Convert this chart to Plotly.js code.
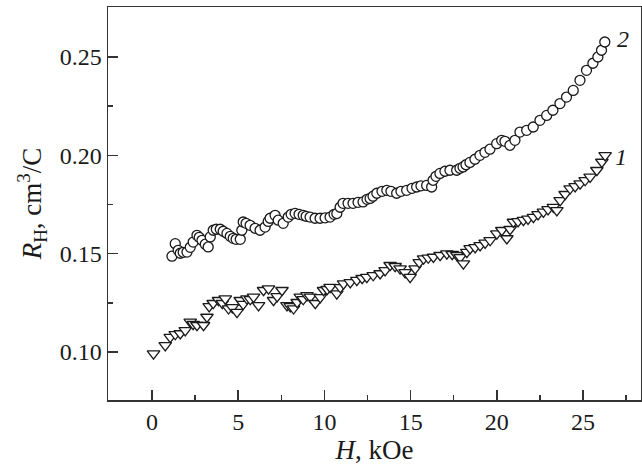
<!DOCTYPE html>
<html>
<head>
<meta charset="utf-8">
<script src="https://cdn.plot.ly/plotly-3.0.1.min.js"></script>
<style>html,body{margin:0;padding:0;background:#fff;}#chart{width:642px;height:471px;}</style>
</head>
<body>
<div id="chart"></div>
<script>
// Curve 1 (triangles down)
var h1 = [0.09,0.77,1.06,1.35,1.64,1.93,2.22,2.39,2.61,2.99,3.19,3.32,3.55,3.86,4.08,4.25,4.44,4.66,4.93,5.12,5.29,5.51,5.70,5.89,6.18,6.47,6.76,7.05,7.26,7.54,7.83,8.02,8.21,8.42,8.60,8.77,8.99,9.18,9.47,9.76,9.95,10.16,10.33,10.72,10.92,11.11,11.50,11.88,12.19,12.46,12.83,13.23,13.52,13.81,14.10,14.39,14.68,14.97,15.26,15.50,15.75,16.02,16.32,16.71,17.10,17.41,17.68,17.87,18.06,18.26,18.45,18.74,19.03,19.32,19.61,20.00,20.29,20.58,20.77,20.96,21.23,21.54,21.81,22.12,22.39,22.70,22.97,23.28,23.48,23.67,23.96,24.25,24.54,24.83,25.12,25.41,25.80,26.09,26.28];
var r1 = [0.0992,0.1034,0.1076,0.1090,0.1094,0.1110,0.1153,0.1141,0.1136,0.1136,0.1178,0.1232,0.1248,0.1263,0.1248,0.1271,0.1221,0.1227,0.1203,0.1263,0.1243,0.1271,0.1268,0.1280,0.1237,0.1314,0.1322,0.1263,0.1283,0.1314,0.1237,0.1232,0.1221,0.1253,0.1280,0.1268,0.1288,0.1280,0.1248,0.1278,0.1314,0.1319,0.1330,0.1297,0.1329,0.1348,0.1354,0.1365,0.1375,0.1381,0.1390,0.1399,0.1415,0.1441,0.1436,0.1424,0.1405,0.1381,0.1424,0.1456,0.1475,0.1479,0.1483,0.1492,0.1500,0.1497,0.1492,0.1481,0.1449,0.1508,0.1527,0.1532,0.1542,0.1555,0.1568,0.1602,0.1619,0.1577,0.1624,0.1661,0.1664,0.1670,0.1677,0.1686,0.1700,0.1712,0.1725,0.1737,0.1720,0.1771,0.1802,0.1831,0.1842,0.1856,0.1873,0.1890,0.1924,0.1966,0.2000];

// Curve 2 (circles)
var h2 = [1.16,1.35,1.52,1.64,1.81,2.03,2.22,2.39,2.61,2.74,2.90,3.09,3.26,3.38,3.55,3.73,3.96,4.13,4.35,4.54,4.71,4.88,5.12,5.21,5.29,5.46,5.69,5.98,6.27,6.56,6.74,6.85,7.14,7.32,7.61,7.90,8.07,8.30,8.53,8.77,8.94,9.17,9.46,9.75,10.04,10.33,10.56,10.72,10.91,11.08,11.37,11.66,11.95,12.24,12.47,12.65,12.82,13.04,13.34,13.62,13.86,14.19,14.44,14.77,15.08,15.35,15.60,15.93,16.22,16.30,16.47,16.70,16.99,17.28,17.67,17.86,18.04,18.21,18.44,18.73,19.02,19.31,19.60,19.99,20.28,20.47,20.76,21.05,21.34,21.73,22.11,22.50,22.89,23.25,23.66,24.04,24.43,24.82,25.20,25.57,25.86,26.07,26.26];
var r2 = [0.1487,0.1551,0.1517,0.1502,0.1507,0.1508,0.1532,0.1559,0.1593,0.1583,0.1568,0.1548,0.1534,0.1585,0.1619,0.1624,0.1624,0.1614,0.1603,0.1588,0.1578,0.1573,0.1573,0.1619,0.1661,0.1654,0.1644,0.1629,0.1619,0.1635,0.1664,0.1680,0.1695,0.1670,0.1654,0.1686,0.1700,0.1705,0.1700,0.1695,0.1690,0.1686,0.1680,0.1680,0.1682,0.1686,0.1700,0.1704,0.1736,0.1756,0.1756,0.1756,0.1761,0.1763,0.1776,0.1781,0.1792,0.1807,0.1817,0.1822,0.1817,0.1807,0.1817,0.1822,0.1832,0.1839,0.1845,0.1847,0.1839,0.1873,0.1893,0.1908,0.1919,0.1924,0.1924,0.1934,0.1941,0.1952,0.1964,0.1980,0.2000,0.2015,0.2031,0.2059,0.2076,0.2071,0.2051,0.2076,0.2118,0.2127,0.2144,0.2178,0.2203,0.2229,0.2263,0.2296,0.2330,0.2381,0.2432,0.2468,0.2500,0.2534,0.2576];

var curveLabels = ['1', '2'];
var xTickVals = [0, 5, 10, 15, 20, 25];
var yTickVals = [0.10, 0.15, 0.20, 0.25];
var yTickText = ['0.10', '0.15', '0.20', '0.25'];

var font = 'Liberation Serif, Times New Roman, serif';
var ink = '#1a1a1a';

var traces = [
  {x: h1, y: r1, mode: 'markers', type: 'scatter',
   marker: {symbol: 'triangle-down', size: 11, color: '#ffffff', line: {color: ink, width: 1.3}}},
  {x: h2, y: r2, mode: 'markers', type: 'scatter',
   marker: {symbol: 'circle', size: 10, color: '#ffffff', line: {color: ink, width: 1.3}}}
];

var layout = {
  width: 642, height: 471,
  margin: {l: 108, r: 1, t: 7, b: 71},
  paper_bgcolor: '#ffffff', plot_bgcolor: '#ffffff',
  showlegend: false,
  font: {family: font, size: 24, color: ink},
  xaxis: {
    range: [-2.55, 28.36], tickmode: 'array', tickvals: xTickVals,
    ticks: 'inside', ticklen: 10, tickwidth: 1.5, tickcolor: '#333',
    minor: {ticks: 'inside', ticklen: 5, tickwidth: 1.5, tickcolor: '#333', dtick: 2.5, tick0: 0},
    showline: true, linecolor: '#333', linewidth: 1.5, mirror: true,
    showgrid: false, zeroline: false,
    tickfont: {family: font, size: 24, color: ink},
    title: {text: '<i>H</i>, kOe', font: {family: font, size: 27, color: ink}, standoff: 6}
  },
  yaxis: {
    range: [0.0756, 0.2754], tickmode: 'array', tickvals: yTickVals, ticktext: yTickText,
    ticks: 'inside', ticklen: 10, tickwidth: 1.5, tickcolor: '#333',
    minor: {ticks: 'inside', ticklen: 5, tickwidth: 1.5, tickcolor: '#333', dtick: 0.025, tick0: 0},
    showline: true, linecolor: '#333', linewidth: 1.5, mirror: true,
    showgrid: false, zeroline: false,
    tickfont: {family: font, size: 24, color: ink},
    title: {text: '<i>R</i><sub>H</sub>, cm<sup>3</sup>/C', font: {family: font, size: 27, color: ink}, standoff: 10}
  },
  annotations: [
    {x: 27.2, y: 0.1990, xref: 'x', yref: 'y', text: '<i>' + curveLabels[0] + '</i>', showarrow: false,
     font: {family: font, size: 24, color: ink}},
    {x: 27.3, y: 0.2590, xref: 'x', yref: 'y', text: '<i>' + curveLabels[1] + '</i>', showarrow: false,
     font: {family: font, size: 24, color: ink}}
  ]
};

Plotly.newPlot('chart', traces, layout, {displayModeBar: false, staticPlot: true});
</script>
</body>
</html>
